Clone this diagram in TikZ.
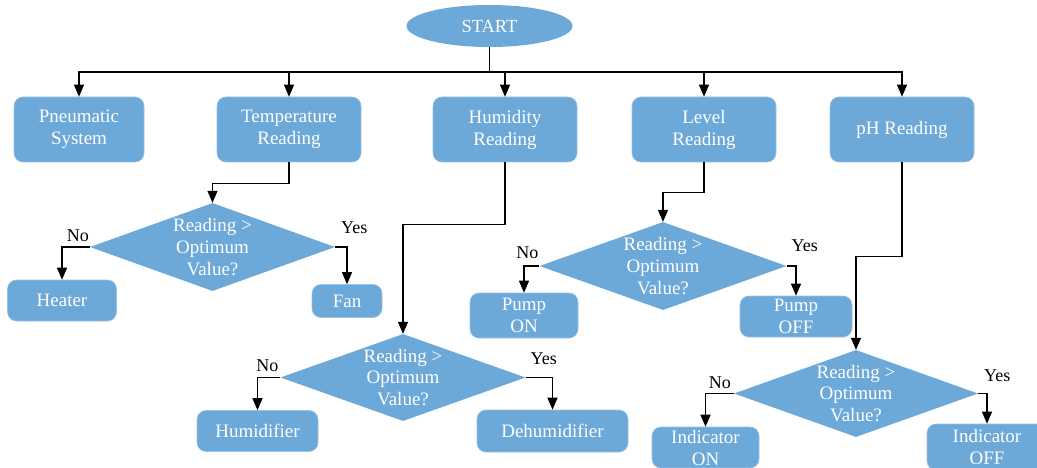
\documentclass[tikz,border=0pt]{standalone}
\usepackage{fontspec}
\setmainfont{Liberation Serif}
\usetikzlibrary{shapes.geometric,arrows.meta,calc}
\definecolor{boxblue}{RGB}{108,168,216}
\begin{document}
\begin{tikzpicture}[x=1pt,y=-1pt,
  box/.style={fill=boxblue, draw=boxblue!70!white, line width=0.6pt, rounded corners=9pt, text=white,
    font=\fontsize{19}{22}\selectfont, align=center, inner sep=0pt},
  startbox/.style={ellipse, fill=boxblue, text=white, font=\fontsize{18.5}{22}\selectfont, inner sep=0pt,
    minimum width=166pt, minimum height=42pt},
  dia/.style={diamond, fill=boxblue, inner sep=0pt, minimum width=245pt, minimum height=88pt},
  diatext/.style={text=white, font=\fontsize{19}{21.7}\selectfont, align=center, inner sep=0pt},
  lbl/.style={text=black, font=\fontsize{18}{20}\selectfont, inner sep=0pt},
  line/.style={line width=1.2pt, draw=black},
  arr/.style={line width=1.2pt, draw=black, -{Triangle[length=12pt,width=10pt]}}
]
\useasboundingbox (0,0) rectangle (1037,468);
\clip (0,0) rectangle (1037,468);
\fill[white] (0,0) rectangle (1037,468);

% nodes
\node[startbox] (start) at (489.5,26) {START};
\node[box, minimum width=130pt, minimum height=65pt] (pneu) at (79,129.5) {Pneumatic\\System};
\node[box, minimum width=144pt, minimum height=65pt] (temp) at (289,129.5) {Temperature\\Reading};
\node[box, minimum width=144pt, minimum height=65pt] (hum) at (505,129.5) {Humidity\\Reading};
\node[box, minimum width=144pt, minimum height=65pt] (lev) at (704,129.5) {Level\\Reading};
\node[box, minimum width=144pt, minimum height=65pt] (ph) at (902,129.5) {pH Reading};

\node[dia] (d1) at (212.5,247) {};
\node[diatext] at (d1) {Reading >\\Optimum\\Value?};
\node[box, minimum width=109pt, minimum height=41pt] (heater) at (62,300.5) {Heater};
\node[box, minimum width=70pt, minimum height=33pt] (fan) at (347,301) {Fan};

\node[dia, minimum height=87pt] (d2) at (403,377.5) {};
\node[diatext] at (d2) {Reading >\\Optimum\\Value?};
\node[box, minimum width=121pt, minimum height=41pt] (humid) at (257.5,431) {Humidifier};
\node[box, minimum width=151pt, minimum height=42pt] (dehum) at (552.5,431) {Dehumidifier};

\node[dia, minimum width=247pt] (d3) at (663,266) {};
\node[diatext] at (d3) {Reading >\\Optimum\\Value?};
\node[box, minimum width=108pt, minimum height=45pt] (pumpon) at (524,315.5) {Pump\\ON};
\node[box, minimum width=112pt, minimum height=41pt] (pumpoff) at (796,316.5) {Pump\\OFF};

\node[dia, minimum width=244pt, minimum height=87pt] (d4) at (856,393.5) {};
\node[diatext] at (d4) {Reading >\\Optimum\\Value?};
\node[box, minimum width=107pt, minimum height=41pt] (indon) at (705.5,447.5) {Indicator\\ON};
\node[box, minimum width=120pt, minimum height=46pt] (indoff) at (987,447) {Indicator\\OFF};

% connectors from start
\coordinate (bar) at (489.5,72);
\draw[line] (start.south) -- (bar);
\foreach \n in {pneu,temp,hum,lev,ph}{
  \draw[arr] (bar) -| (\n.north);
}

% readings to decisions
\draw[arr] (temp.south) -- ++(0,21) -| (d1.north);
\draw[arr] (hum.south) -- ++(0,62) -| (d2.north);
\draw[arr] (lev.south) -- ++(0,30) -| (d3.north);
\draw[arr] (ph.south) -- ++(0,94) -| (d4.north);

% decision branches
\draw[arr] (d1.west) -| (heater.north);
\draw[arr] (d1.east) -| (fan.north);
\draw[arr] (d2.west) -| (humid.north);
\draw[arr] (d2.east) -| (dehum.north);
\draw[arr] (d3.west) -| (pumpon.north);
\draw[arr] (d3.east) -| (pumpoff.north);
\draw[arr] (d4.west) -| (indon.north);
\draw[arr] (d4.east) -| (indoff.north);

% labels
\node[lbl] at ($(d1.west)+(-12,-11)$) {No};
\node[lbl] at ($(d1.east)+(19,-19)$) {Yes};
\node[lbl] at ($(d2.west)+(-13,-12)$) {No};
\node[lbl] at ($(d2.east)+(18,-19)$) {Yes};
\node[lbl] at ($(d3.west)+(-12,-13)$) {No};
\node[lbl] at ($(d3.east)+(18,-20)$) {Yes};
\node[lbl] at ($(d4.west)+(-14,-11)$) {No};
\node[lbl] at ($(d4.east)+(19,-18)$) {Yes};
\end{tikzpicture}
\end{document}
